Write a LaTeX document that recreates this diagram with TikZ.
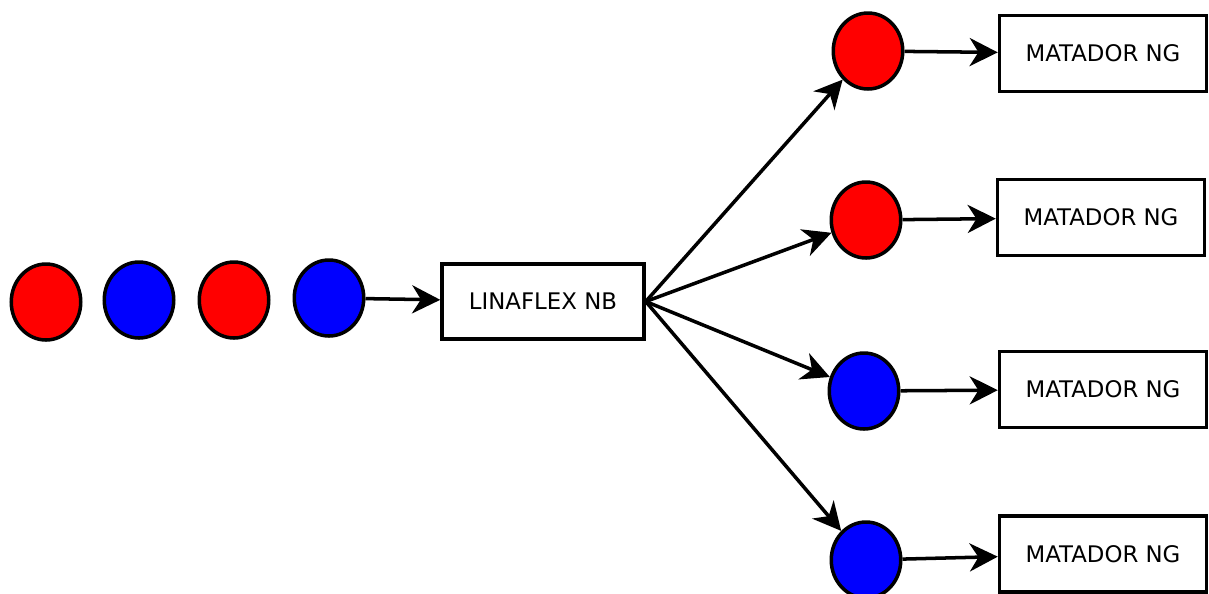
\documentclass[tikz,border=0pt]{standalone}
\usepackage{fontspec}
\setmainfont{DejaVu Sans}
\usetikzlibrary{shapes.geometric}
\usetikzlibrary{arrows.meta}

\begin{document}
\begin{tikzpicture}[x=0.02cm, y=-0.02cm,
		frame/.style={draw, fill=white, line width=2pt, minimum width=4.14cm, minimum height=1.52cm, inner sep=0pt, font=\fontsize{13}{15}\selectfont},
		dot/.style={ellipse, draw, line width=2pt, minimum width=1.39cm, minimum height=1.52cm, inner sep=0pt},
		arr/.style={-{Stealth[length=16pt, width=16pt, inset=5pt]}, line width=2pt}]
			\useasboundingbox (0,0) rectangle (1209,593);
			\clip (0,0) rectangle (1209,593);
			\node[dot, fill=red] (in1) at (46,302) {};
			\node[dot, fill=blue] (in2) at (139,300) {};
			\node[dot, fill=red] (in3) at (234,300) {};
			\node[dot, fill=blue] (in4) at (329,298) {};
			\node[frame, minimum width=4.04cm, minimum height=1.5cm] (lin) at (543,301.5) {LINAFLEX NB};
			\node[dot, fill=red] (out1) at (868,51) {};
			\node[dot, fill=red] (out2) at (866,220) {};
			\node[dot, fill=blue] (out3) at (864,391) {};
			\node[dot, fill=blue] (out4) at (866,560) {};
			\node[frame] (mat1) at (1103,53.5) {MATADOR NG};
			\node[frame] (mat2) at (1101,217.5) {MATADOR NG};
			\node[frame] (mat3) at (1103,389.5) {MATADOR NG};
			\node[frame] (mat4) at (1103,554) {MATADOR NG};
			\draw[arr] (in4) -- (lin);
			\foreach \i in {1,...,4} {
				\draw[arr] (lin.east) -- (out\i);
				\draw[arr] (out\i) -- (mat\i);
			}
		\end{tikzpicture}
\end{document}
